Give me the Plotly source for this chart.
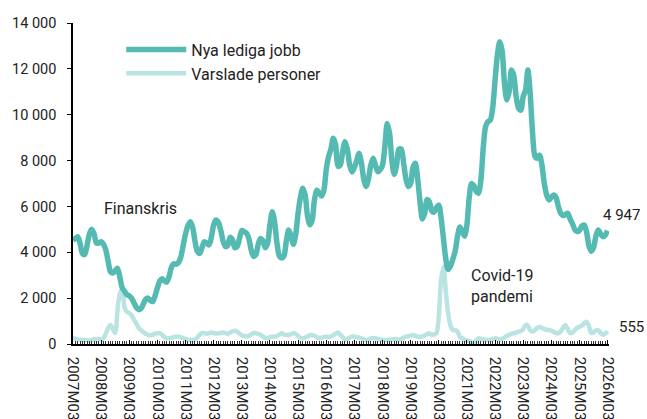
import plotly.graph_objects as go

# Monthly labels from 2007M03 to 2026M03
start_year, start_month = 2007, 3
n_months = 229
months = []
for k in range(n_months):
    m = start_month - 1 + k
    months.append(f"{start_year + m // 12}M{m % 12 + 1:02d}")

tick_labels = [months[k] for k in range(0, n_months, 12)]
tick_positions = list(range(0, n_months, 12))

nya_lediga_jobb = [
    4530, 4600, 4680, 4400, 3950, 3900, 4300, 4800, 5000, 4800, 4400, 4400,
    4460, 4350, 4100, 3600, 3150, 3100, 3200, 3300, 2900, 2450, 2300, 2150,
    2100, 1990, 1800, 1600, 1500, 1550, 1750, 1950, 2000, 1900, 1850, 2100,
    2450, 2750, 2850, 2750, 2700, 2950, 3350, 3500, 3480, 3550, 3800, 4300,
    4800, 5150, 5330, 5100, 4500, 4050, 3950, 4200, 4460, 4400, 4320, 4650,
    5200, 5410, 5300, 4970, 4500, 4250, 4300, 4650, 4550, 4200, 4250, 4600,
    4950, 4900, 4830, 4600, 4100, 3820, 3900, 4350, 4600, 4500, 4200, 4400,
    5200, 5770, 5300, 4400, 3850, 3750, 3850, 4500, 4970, 4700, 4350, 4800,
    5700, 6400, 6790, 6500, 5600, 5200, 5400, 6300, 6710, 6600, 6450, 6700,
    7600, 8170, 8500, 8970, 8700, 7750, 7800, 8400, 8820, 8500, 7800, 7500,
    7700, 8000, 8310, 7900, 7200, 6870, 7200, 7800, 8100, 7800, 7510, 7600,
    7800, 8600, 9620, 9200, 8000, 7400, 7800, 8500, 8500, 7900, 7200, 6870,
    7000, 7700, 7880, 7200, 6200, 5450, 5700, 6300, 6200, 5800, 5750, 5950,
    6060, 5500, 4600, 3700, 3250, 3400, 3700, 4050, 4700, 5100, 4900, 4700,
    5200, 6400, 7000, 6900, 6650, 6580, 7200, 8600, 9500, 9700, 9770, 10300,
    11500, 12600, 13180, 12800, 11400, 10650, 11000, 11950, 11700, 10800, 10300, 10200,
    10800, 11070, 11950, 10900, 9200, 8200, 8100, 8240, 7800, 7000, 6500, 6280,
    6400, 6500, 6400, 6000, 5700, 5600, 5650, 5700, 5450, 5250, 5000, 4900,
    4950, 5150, 5190, 4900, 4300, 4050, 4200, 4700, 4970, 4800, 4680, 4750,
    4947,
]

varslade_personer = [
    250, 230, 200, 180, 170, 175, 160, 150, 180, 210, 200, 220,
    200, 250, 450, 700, 830, 650, 480, 1500, 2200, 2350, 1600, 1400,
    1350, 1250, 1050, 900, 700, 610, 520, 450, 400, 380, 400, 450,
    470, 470, 400, 300, 250, 250, 280, 300, 320, 320, 300, 250,
    220, 180, 175, 175, 200, 280, 400, 480, 470, 450, 470, 500,
    470, 460, 470, 480, 500, 480, 450, 500, 550, 580, 540, 450,
    380, 350, 330, 350, 420, 470, 470, 440, 400, 320, 270, 260,
    300, 330, 320, 350, 420, 470, 420, 390, 400, 430, 470, 440,
    350, 260, 250, 280, 330, 380, 390, 350, 300, 250, 270, 300,
    320, 310, 320, 380, 450, 490, 420, 300, 200, 220, 280, 320,
    320, 300, 280, 250, 190, 175, 200, 240, 260, 250, 220, 200,
    180, 175, 180, 190, 200, 210, 200, 190, 230, 280, 320, 330,
    360, 390, 350, 320, 310, 330, 370, 420, 470, 400, 420, 470,
    1200, 2800, 3370, 2300, 1340, 800, 610, 600, 550, 300, 250, 190,
    150, 120, 80, 60, 150, 250, 220, 200, 180, 175, 180, 220,
    250, 230, 200, 220, 280, 350, 400, 440, 470, 500, 540, 560,
    650, 830, 800, 600, 540, 600, 700, 750, 700, 650, 620, 610,
    580, 520, 480, 470, 550, 700, 830, 650, 470, 500, 600, 700,
    750, 800, 900, 970, 800, 480, 500, 600, 600, 480, 400, 450,
    555,
]

x_idx = list(range(n_months))
FONT = "Roboto"

fig = go.Figure()
fig.add_trace(go.Scatter(
    x=x_idx, y=varslade_personer, mode="lines", name="Varslade personer",
    line=dict(color="#BAE4E1", width=4.5, shape="spline", smoothing=0.8),
    legendgroup="b",
))
fig.add_trace(go.Scatter(
    x=x_idx, y=nya_lediga_jobb, mode="lines", name="Nya lediga jobb",
    line=dict(color="#55BBB2", width=5.5, shape="spline", smoothing=0.8),
    legendgroup="a",
))

fig.add_annotation(x=12.4, y=5930, text="Finanskris", showarrow=False,
                   xanchor="left", yanchor="middle",
                   font=dict(family=FONT, size=16, color="#222"))
fig.add_annotation(x=168.7, y=2530, text="Covid-19<br>pandemi", showarrow=False,
                   xanchor="left", yanchor="middle", align="left",
                   font=dict(family=FONT, size=16, color="#222"))
fig.add_annotation(x=x_idx[-1], y=nya_lediga_jobb[-1], text="4 947", showarrow=False,
                   xanchor="left", yanchor="middle", xshift=-7, yshift=16,
                   font=dict(family=FONT, size=15, color="#222"))
fig.add_annotation(x=x_idx[-1], y=varslade_personer[-1], text="555", showarrow=False,
                   xanchor="left", yanchor="middle", xshift=9, yshift=4,
                   font=dict(family=FONT, size=15, color="#222"))

fig.update_layout(
    width=647, height=419,
    margin=dict(l=73, r=38, t=23, b=75, autoexpand=False),
    paper_bgcolor="white", plot_bgcolor="white",
    separators=", ",
    font=dict(family=FONT, size=15, color="#222"),
    showlegend=True,
    legend=dict(x=0.09, y=0.97, xanchor="left", yanchor="top",
                traceorder="reversed",
                bgcolor="rgba(0,0,0,0)", font=dict(family=FONT, size=16, color="#222"),
                itemwidth=60, tracegroupgap=12),
    xaxis=dict(
        range=[0, 228.6], showgrid=False, zeroline=False, automargin=False,
        showline=True, linecolor="black", linewidth=1.5,
        tickmode="array", tickvals=tick_positions, ticktext=tick_labels,
        tickangle=90, ticks="inside", ticklen=4, tickcolor="black",
        tickfont=dict(family=FONT, size=15, color="#222"),
        minor=dict(ticks="inside", dtick=1, tick0=0, ticklen=3, tickcolor="#333"),
        ticklabelstandoff=8,
    ),
    yaxis=dict(
        range=[0, 14000], dtick=2000, tickformat=",d", automargin=False,
        showgrid=False, zeroline=False,
        showline=True, linecolor="black", linewidth=1.5,
        ticks="outside", ticklen=4, tickcolor="black",
        tickfont=dict(family=FONT, size=14.5, color="#222"),
        ticklabelstandoff=8,
    ),
)

fig.write_html("out.html",
               config={"displayModeBar": False},
               post_script="document.body.style.margin='0';document.body.style.overflow='hidden';")
